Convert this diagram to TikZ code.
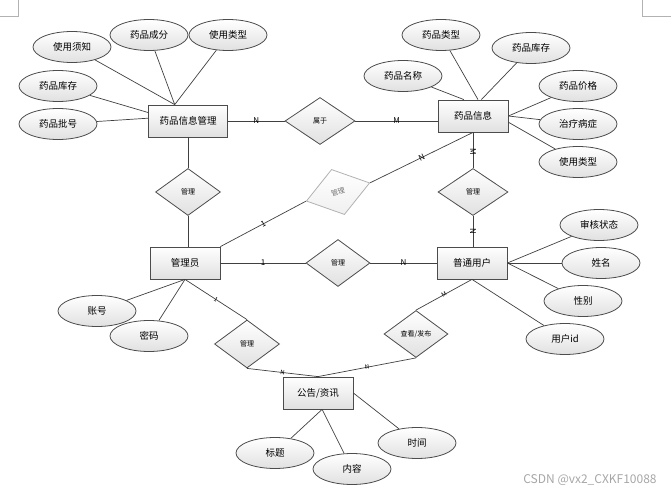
\documentclass[tikz,border=0pt]{standalone}
\usepackage{fontspec}
\setmainfont{Noto Sans CJK SC}
\usetikzlibrary{shapes.geometric}

\tikzset{
  entity/.style={draw=black!70, line width=0.8pt, top color=white, bottom color=black!12,
    minimum width=70pt, minimum height=32pt, inner sep=0pt, font=\fontsize{9.5}{10}\selectfont},
  attr/.style={ellipse, draw=black!70, line width=0.8pt, top color=white, bottom color=black!12,
    minimum width=78pt, minimum height=31pt, inner sep=0pt, font=\fontsize{9.5}{10}\selectfont},
  rel/.style={diamond, draw=black!70, line width=0.8pt, top color=white, bottom color=black!12,
    minimum width=65pt, minimum height=47pt, inner sep=0pt, font=\fontsize{7}{8}\selectfont},
  link/.style={draw=black!75, line width=0.7pt},
  card/.style={font=\fontsize{8}{8}\selectfont, inner sep=0.5pt},
  cardsm/.style={font=\fontsize{6}{6}\selectfont, inner sep=0.5pt},
}

\begin{document}
\begin{tikzpicture}[x=1pt, y=-1pt]

\useasboundingbox (0,0) rectangle (671,494);
\draw[black!30] (0,16) -- (18,16) -- (18,0);
\draw[black!30] (642,0) -- (642,16) -- (671,16);

\node[entity, minimum width=79pt] (ypgl) at (188,121) {药品信息管理};
\node[entity] (ypxx) at (473,116) {药品信息};
\node[entity] (gly)  at (185,263) {管理员};
\node[entity] (ptyh) at (472,263) {普通用户};
\node[entity] (ggzx) at (318,393) {公告/资讯};

\node[rel, minimum width=70pt] (shuyu) at (320,121) {属于};
\node[rel] (gl1) at (188,192) {管理};
\node[rel, minimum width=66pt, rotate=16, draw=black!30, text=black!55, bottom color=black!6] (gl2) at (338,192) {管理};
\node[rel, minimum width=70pt] (gl3) at (473,192) {管理};
\node[rel, minimum width=64pt] (gl4) at (338,263) {管理};
\node[rel, minimum height=48pt] (gl5) at (247,344) {管理};
\node[rel, minimum width=64pt] (ckfb) at (416,334) {查看/发布};

\node[attr] (sysz)  at (72,47)   {使用须知};
\node[attr] (ypcf)  at (149,35)  {药品成分};
\node[attr] (sylx1) at (228,35)  {使用类型};
\node[attr] (ypkc1) at (58,86)   {药品库存};
\node[attr] (ypph)  at (58,124)  {药品批号};

\node[attr] (yplx)  at (441,35)  {药品类型};
\node[attr] (ypkc2) at (531,48)  {药品库存};
\node[attr] (ypmc)  at (403,76)  {药品名称};
\node[attr] (ypjg)  at (578,86)  {药品价格};
\node[attr] (zlbz)  at (578,124) {治疗病症};
\node[attr] (sylx2) at (578,162) {使用类型};

\node[attr] (shzt)  at (599,225) {审核状态};
\node[attr] (xm)    at (601,263) {姓名};
\node[attr] (xb)    at (583,301) {性别};
\node[attr] (yhid)  at (565,339) {用户id};

\node[attr] (zh)    at (97,311)  {账号};
\node[attr] (mm)    at (149,336) {密码};

\node[attr] (bt)    at (275,453) {标题};
\node[attr] (nr)    at (352,469) {内容};
\node[attr] (sj)    at (417,443) {时间};

\draw[link] (sysz) -- (ypgl.129);
\draw[link] (ypcf) -- (ypgl.129);
\draw[link] (sylx1) -- (ypgl.129);
\draw[link] (ypkc1) -- (ypgl.168);
\draw[link] (ypph) -- (ypgl.176);

\draw[link] (ypmc) -- (ypxx.119);
\draw[link] (yplx) -- (ypxx.73);
\draw[link] (ypkc2) -- (ypxx.63);
\draw[link] (ypjg) -- (ypxx.east);
\draw[link] (zlbz) -- (ypxx.east);
\draw[link] (sylx2) -- (ypxx.-10);

\draw[link] (shzt) -- (ptyh.east);
\draw[link] (xm) -- (ptyh.east);
\draw[link] (xb) -- (ptyh.east);
\draw[link] (yhid) -- (ptyh.south);

\draw[link] (zh) -- (gly.south);
\draw[link] (mm) -- (gly.south);

\draw[link] (bt) -- (ggzx.-76);
\draw[link] (nr) -- (ggzx.-76);
\draw[link] (sj) -- (ggzx.east);

\draw[link] (ypgl.east) -- node[card] {N} (shuyu.west);
\draw[link] (shuyu.east) -- node[card] {M} (shuyu.east -| ypxx.west);
\draw[link] (ypgl.south) -- (gl1.north);
\draw[link] (gl1.south) -- (gl1.south |- gly.north);

\draw[link] (gly.north east) -- node[card, sloped] {1} (gl2.west);
\draw[link] (gl2.east) -- node[card, sloped] {N} (ypxx.south);
\draw[link] (ypxx.south) -- node[card, sloped, pos=0.55] {M} (gl3.north);
\draw[link] (gl3.south) -- node[card, sloped] {N} (gl3.south |- ptyh.north);

\draw[link] (gly.east) -- node[card] {1} (gl4.west);
\draw[link] (gl4.east) -- node[card] {N} (ptyh.west);

\draw[link] (gly.south) -- node[cardsm, sloped] {1} (gl5.north);
\draw[link] (gl5.south) -- node[cardsm, sloped] {N} (ggzx.north);
\draw[link] (ptyh.south) -- node[cardsm, sloped] {M} (ckfb.north);
\draw[link] (ckfb.south) -- node[cardsm, sloped] {N} (ggzx.north);

\node[text=black!35, font=\fontsize{12}{12}\selectfont] (mark) at (590,480) {CSDN @vx2\_CXKF10088};

\end{tikzpicture}
\end{document}
